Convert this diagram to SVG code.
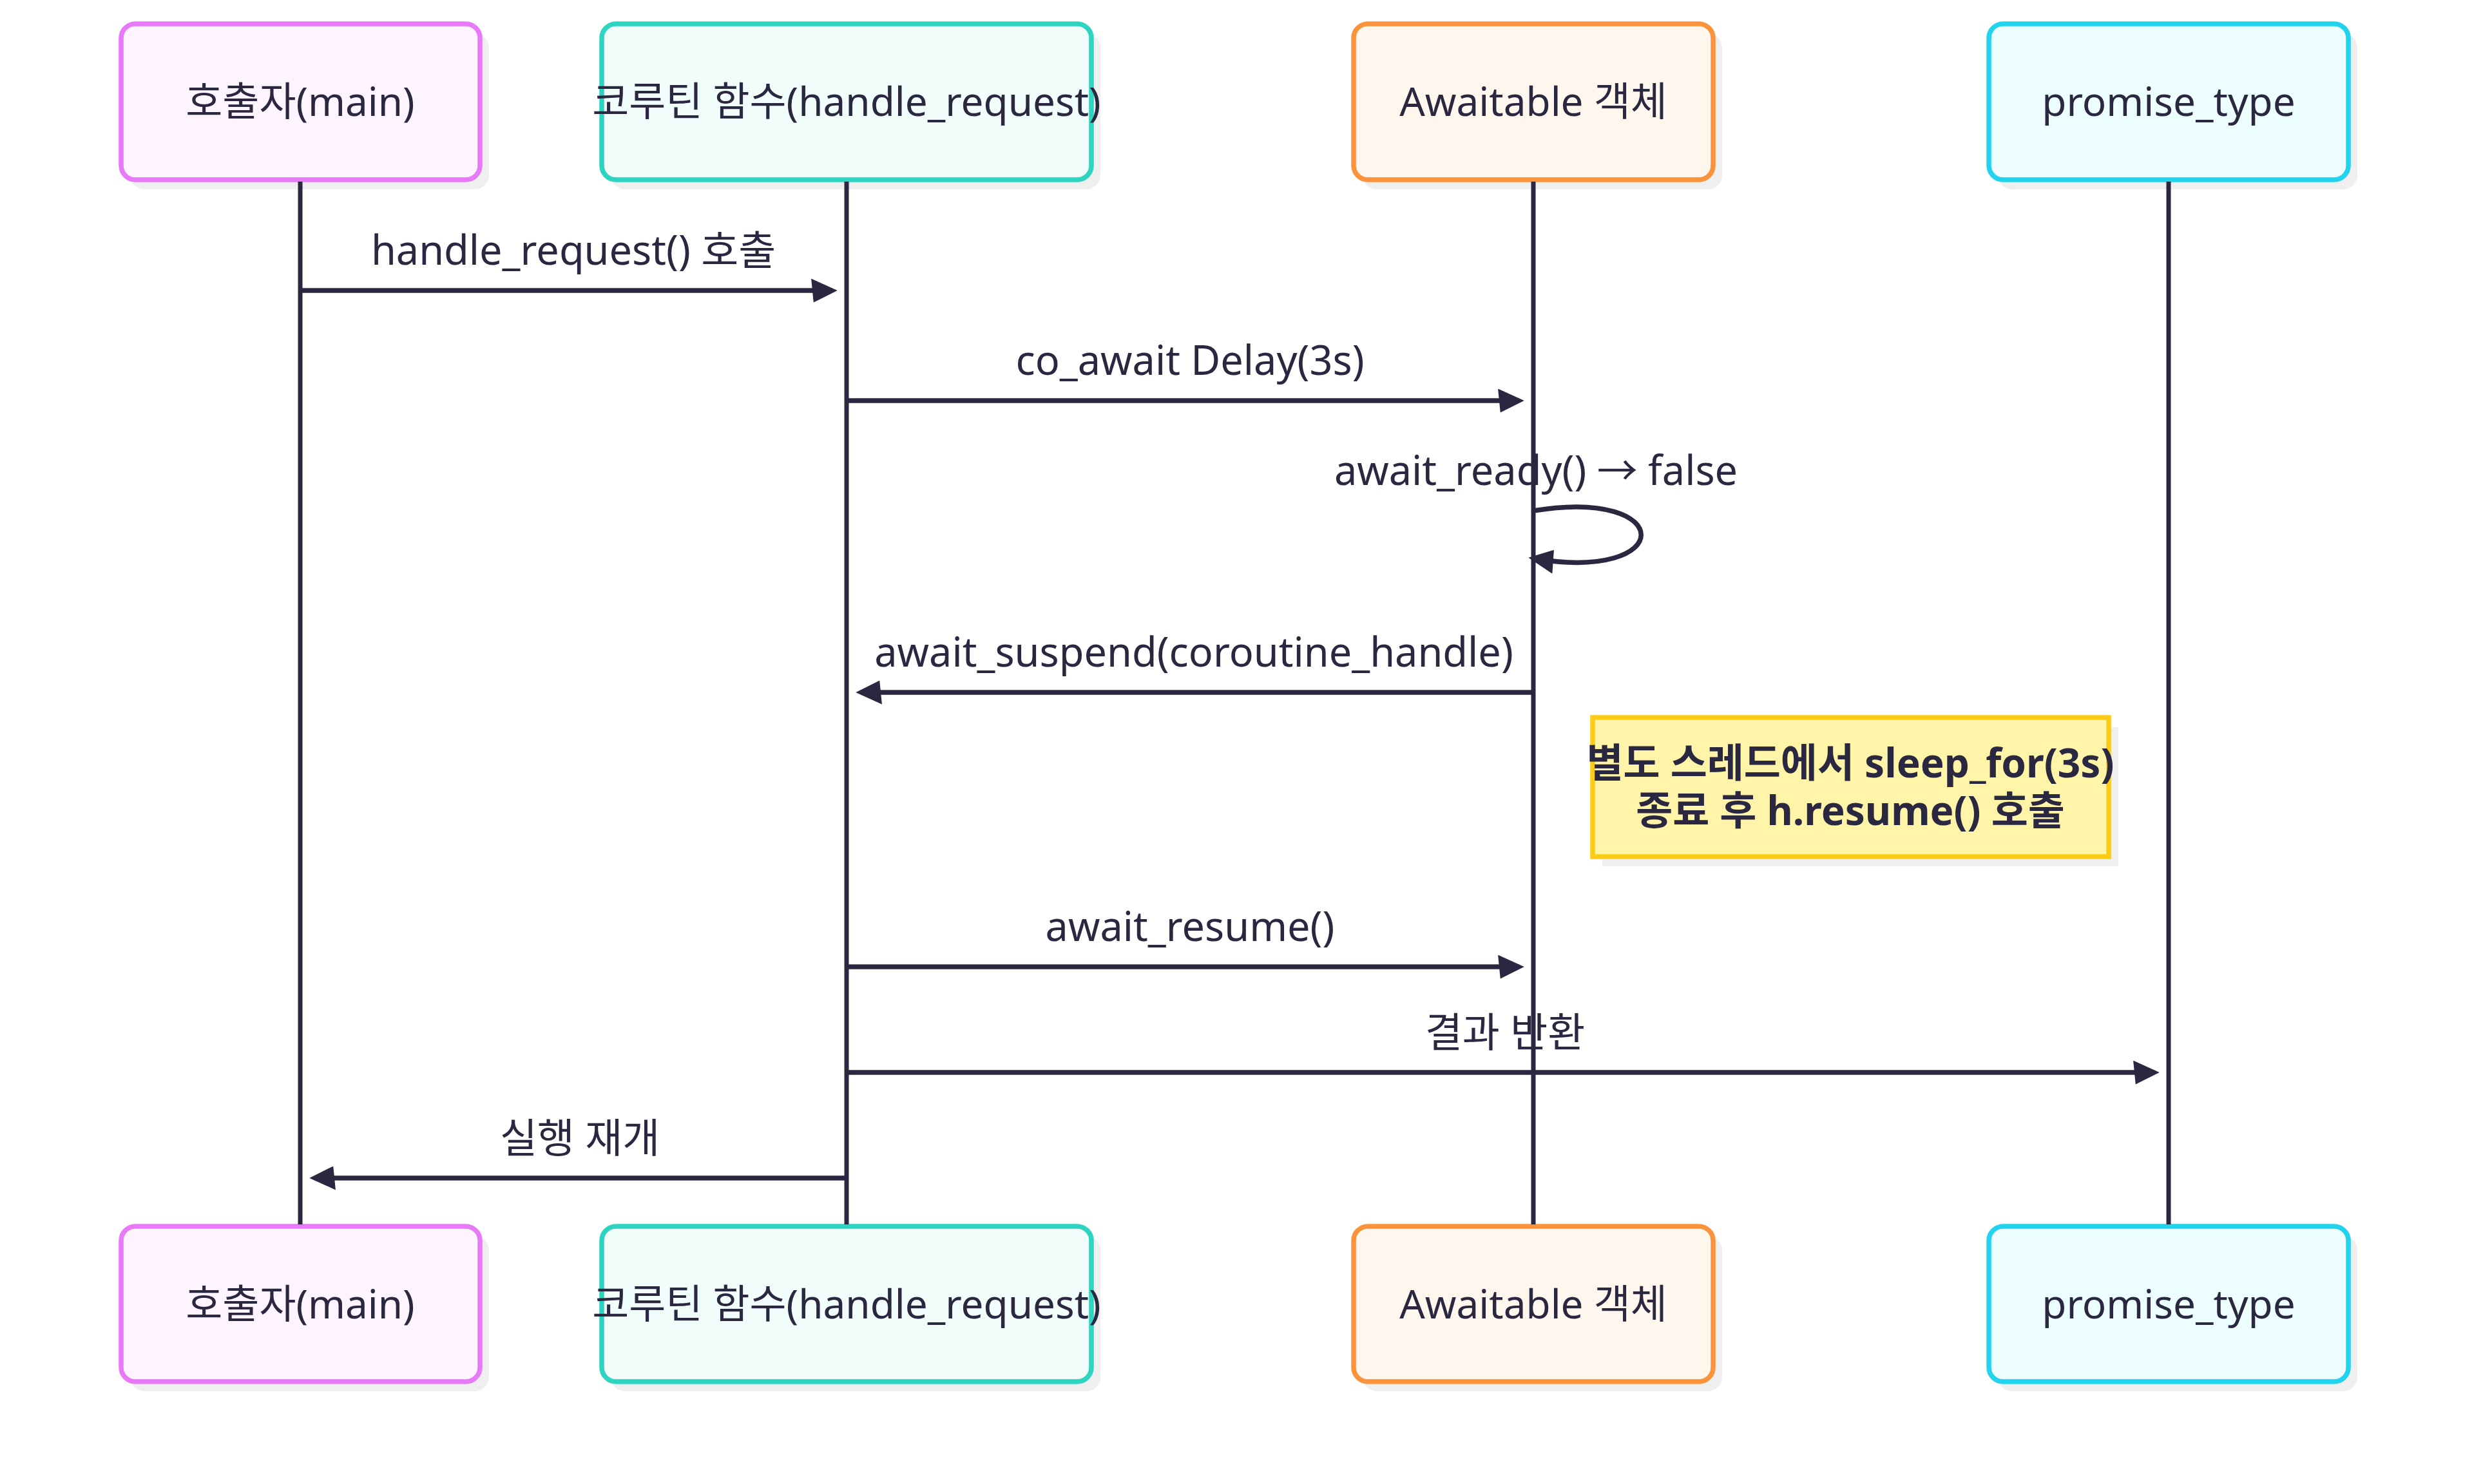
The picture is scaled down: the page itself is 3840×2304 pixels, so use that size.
<svg xmlns="http://www.w3.org/2000/svg" width="3840" height="2304" viewBox="0 0 3840 2304">
<defs>
<marker id="ah" viewBox="-1 0 11 10" refX="7.9" refY="5" markerWidth="40.7" markerHeight="37" markerUnits="userSpaceOnUse" orient="auto"><path d="M -1 0 L 10 5 L 0 10 z" fill="#2a2740"/></marker>
</defs>
<style>
.shadow{fill:#efefef}
.box{stroke-width:7.5}
.p1{fill:#fdf4ff;stroke:#e879f9}
.p2{fill:#f0fdfa;stroke:#2dd4bf}
.p3{fill:#fff7ed;stroke:#fb923c}
.p4{fill:#ecfeff;stroke:#22d3ee}
.actor text{font-family:"Noto Sans","Noto Sans CJK KR",sans-serif;font-size:62px;fill:#2a2740;text-anchor:middle}
.life{stroke:#2a2740;stroke-width:7;fill:none}
.msg{stroke:#2a2740;stroke-width:7.5;fill:none}
.lbl{font-family:"Noto Sans","Noto Sans CJK KR",sans-serif;font-size:63px;fill:#2a2740;text-anchor:middle}
.note rect.n{fill:#fff4a8;stroke:#facc15;stroke-width:7.5}
.note text{font-family:"Noto Sans","Noto Sans CJK KR",sans-serif;font-size:62px;font-weight:bold;fill:#2a2740;text-anchor:middle}
</style>
<rect width="3840" height="2304" fill="#ffffff"/>
<g id="actor-main-top" class="actor">
<rect class="shadow" x="202" y="52" width="557" height="242" rx="22"/>
<rect class="box p1" x="188" y="37" width="557" height="242" rx="22"/>
<text x="466" y="180">호출자(main)</text>
</g>
<g id="actor-coroutine-top" class="actor">
<rect class="shadow" x="948" y="52" width="760" height="242" rx="22"/>
<rect class="box p2" x="934" y="37" width="760" height="242" rx="22"/>
<text x="1314" y="180">코루틴 함수(handle_request)</text>
</g>
<g id="actor-awaitable-top" class="actor">
<rect class="shadow" x="2115" y="52" width="558" height="242" rx="22"/>
<rect class="box p3" x="2101" y="37" width="558" height="242" rx="22"/>
<text x="2380" y="180">Awaitable 객체</text>
</g>
<g id="actor-promise-top" class="actor">
<rect class="shadow" x="3101" y="52" width="558" height="242" rx="22"/>
<rect class="box p4" x="3087" y="37" width="558" height="242" rx="22"/>
<text x="3366" y="180">promise_type</text>
</g>
<g id="actor-main-bottom" class="actor">
<rect class="shadow" x="202" y="1919" width="557" height="241" rx="22"/>
<rect class="box p1" x="188" y="1904" width="557" height="241" rx="22"/>
<text x="466" y="2047">호출자(main)</text>
</g>
<g id="actor-coroutine-bottom" class="actor">
<rect class="shadow" x="948" y="1919" width="760" height="241" rx="22"/>
<rect class="box p2" x="934" y="1904" width="760" height="241" rx="22"/>
<text x="1314" y="2047">코루틴 함수(handle_request)</text>
</g>
<g id="actor-awaitable-bottom" class="actor">
<rect class="shadow" x="2115" y="1919" width="558" height="241" rx="22"/>
<rect class="box p3" x="2101" y="1904" width="558" height="241" rx="22"/>
<text x="2380" y="2047">Awaitable 객체</text>
</g>
<g id="actor-promise-bottom" class="actor">
<rect class="shadow" x="3101" y="1919" width="558" height="241" rx="22"/>
<rect class="box p4" x="3087" y="1904" width="558" height="241" rx="22"/>
<text x="3366" y="2047">promise_type</text>
</g>
<g id="lifelines">
<line class="life" x1="466" y1="282" x2="466" y2="1901"/>
<line class="life" x1="1314" y1="282" x2="1314" y2="1901"/>
<line class="life" x1="2380" y1="282" x2="2380" y2="1901"/>
<line class="life" x1="3366" y1="282" x2="3366" y2="1901"/>
</g>
<g id="note" class="note">
<rect class="shadow" x="2487" y="1129" width="801" height="216"/>
<rect class="n" x="2472" y="1114" width="801" height="216"/>
<text x="2872" y="1207">별도 스레드에서 sleep_for(3s)</text>
<text x="2872" y="1281">종료 후 h.resume() 호출</text>
</g>
<g id="connectors">
<line class="msg" x1="466" y1="451" x2="1292" y2="451" marker-end="url(#ah)"/>
<text class="lbl" x="890" y="411">handle_request() 호출</text>
<line class="msg" x1="1314" y1="622" x2="2358" y2="622" marker-end="url(#ah)"/>
<text class="lbl" x="1847" y="582">co_await Delay(3s)</text>
<path class="msg" d="M 2380 793 C 2603 756 2603 905 2380 867" marker-end="url(#ah)"/>
<text class="lbl" x="2384" y="753">await_ready() → false</text>
<line class="msg" x1="2380" y1="1075" x2="1336" y2="1075" marker-end="url(#ah)"/>
<text class="lbl" x="1853" y="1035">await_suspend(coroutine_handle)</text>
<line class="msg" x1="1314" y1="1501" x2="2358" y2="1501" marker-end="url(#ah)"/>
<text class="lbl" x="1847" y="1461">await_resume()</text>
<line class="msg" x1="1314" y1="1665" x2="3344" y2="1665" marker-end="url(#ah)"/>
<text class="lbl" x="2336" y="1625">결과 반환</text>
<line class="msg" x1="1314" y1="1829" x2="488" y2="1829" marker-end="url(#ah)"/>
<text class="lbl" x="900" y="1789">실행 재개</text>
</g>
</svg>
